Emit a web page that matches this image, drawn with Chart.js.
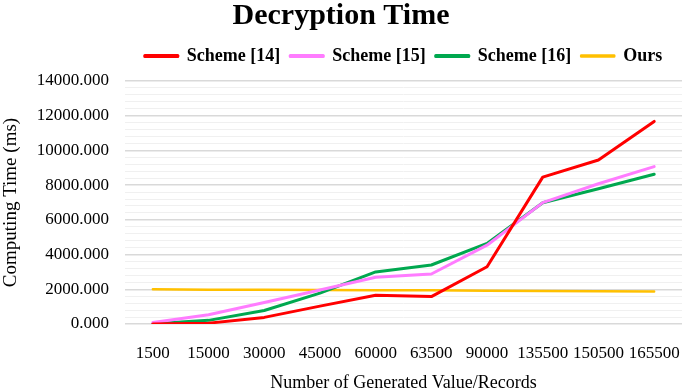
<!DOCTYPE html>
<html>
<head>
<meta charset="utf-8">
<script src="https://cdn.jsdelivr.net/npm/chart.js@4/dist/chart.umd.min.js"></script>
<style>
  html, body { margin: 0; padding: 0; background: #fff; }
  #wrap { width: 685px; height: 392px; }
</style>
</head>
<body>
<div id="wrap"><canvas id="decryptChart"></canvas></div>
<script>
// data
var records = ['1500', '15000', '30000', '45000', '60000', '63500', '90000', '135500', '150500', '165500'];
var scheme14 = [0, 50, 380, 1030, 1660, 1580, 3300, 8460, 9450, 11670];
var scheme15 = [90, 530, 1240, 1960, 2690, 2880, 4540, 6990, 8080, 9070];
var scheme16 = [10, 210, 780, 1780, 3000, 3400, 4640, 6990, 7790, 8630];
var ours = [2000, 1980, 1970, 1960, 1950, 1940, 1920, 1900, 1880, 1870];

var serif = '"Liberation Serif", "Times New Roman", serif';

function line(label, data, color, width) {
    return {
        label: label,
        data: data,
        borderColor: color,
        backgroundColor: color,
        borderWidth: width,
        borderCapStyle: 'round',
        borderJoinStyle: 'round',
        pointRadius: 0,
        pointHoverRadius: 0,
        tension: 0
    };
}

// a bit of extra room under the legend
var legendGap = {
    id: 'legendGap',
    beforeLayout: function (chart) {
        var lg = chart.legend;
        if (lg && !lg._gapPatched) {
            var fit = lg.fit;
            lg.fit = function () {
                fit.apply(this, arguments);
                this.height += 6;
            };
            lg._gapPatched = true;
        }
    }
};

var ctx = document.getElementById('decryptChart').getContext('2d');

var decryptChart = new Chart(ctx, {
    type: 'line',
    data: {
        labels: records,
        datasets: [
            line('Scheme [14]', scheme14, '#ff0000', 3),
            line('Scheme [15]', scheme15, '#ff7cff', 3),
            line('Scheme [16]', scheme16, '#00a84f', 3),
            line('Ours', ours, '#ffc000', 2.5)
        ]
    },
    options: {
        responsive: true,
        maintainAspectRatio: false,
        animation: false,
        layout: { padding: { top: 0, right: 3, bottom: 0, left: 0 } },
        plugins: {
            title: {
                display: true,
                text: 'Decryption Time',
                color: '#000',
                font: { family: serif, size: 30, weight: 'bold', lineHeight: 1 },
                padding: { top: 1, bottom: 6 }
            },
            legend: {
                position: 'top',
                fullSize: false,
                labels: {
                    color: '#000',
                    font: { family: serif, size: 18, weight: 'bold' },
                    boxWidth: 33,
                    boxHeight: 1,
                    padding: 10
                }
            },
            tooltip: { enabled: false }
        },
        scales: {
            x: {
                offset: true,
                grid: {
                    display: true,
                    drawOnChartArea: false,
                    drawTicks: true,
                    tickLength: 17,
                    color: 'rgba(0,0,0,0)'
                },
                border: { display: false },
                ticks: {
                    color: '#000',
                    font: { family: serif, size: 17 },
                    padding: 2,
                    maxRotation: 0,
                    autoSkip: false
                },
                title: {
                    display: true,
                    text: 'Number of Generated Value/Records',
                    color: '#000',
                    font: { family: serif, size: 18, lineHeight: 1 },
                    padding: { top: 4, bottom: 0 }
                },
                afterFit: function (s) { s.height = 68; }
            },
            y: {
                min: 0,
                max: 14000,
                grid: {
                    drawTicks: false,
                    color: function (c) {
                        return c.tick && c.tick.value % 2000 === 0 ? '#d9d9d9' : '#f0f0f0';
                    },
                    lineWidth: function (c) {
                        return c.tick && c.tick.value % 2000 === 0 ? 1.5 : 1;
                    }
                },
                border: { display: false },
                ticks: {
                    stepSize: 400,
                    autoSkip: false,
                    color: '#000',
                    font: { family: serif, size: 17 },
                    padding: 16,
                    callback: function (v) {
                        return v % 2000 === 0 ? v.toFixed(3) : '';
                    }
                },
                title: {
                    display: true,
                    text: 'Computing Time (ms)',
                    color: '#000',
                    font: { family: serif, size: 19 },
                    padding: { top: 0, bottom: 0 }
                },
                afterFit: function (s) { s.width = 125; }
            }
        }
    },
    plugins: [legendGap]
});
</script>
</body>
</html>
